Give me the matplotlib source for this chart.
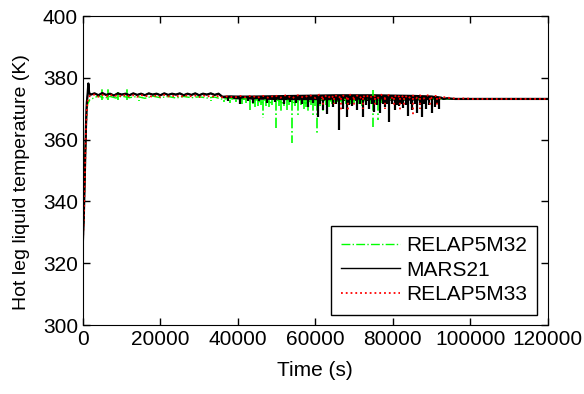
#!/usr/bin/env python3
import matplotlib
matplotlib.use("Agg")
import matplotlib.pyplot as plt
import numpy as np

# ---- data (time in s, temperature in K) ----
# each code: a main trace, plus short spikes (time, tip temperature) that
# leave the band at the given band level

# RELAP5M32
r32_t = [0, 300, 600, 900, 1200, 1800, 3000, 4000, 5500, 7000, 8500, 10000,
         12000, 14000, 16000, 18000, 20000, 22000, 24000, 26000, 28000, 30000,
         32000, 34000, 36000, 38000, 40000, 42000, 43500, 45000, 46000, 47000,
         48500, 50000, 51500, 53000, 54500, 56000, 57500, 59000, 60500, 61500,
         63000, 64500, 66000, 67500, 69000, 70500, 72000, 73500, 75000, 76500,
         78000, 80000, 83000, 86000, 90000, 93000, 100000, 120000]
r32_T = [327.5, 340, 355, 367, 371.5, 373.0, 373.6, 374.2, 373.4, 374.0, 373.5, 374.1,
         373.6, 374.0, 373.4, 374.1, 373.6, 374.0, 373.5, 374.0, 373.6, 373.9,
         373.5, 373.8, 373.1, 373.4, 372.8, 373.3, 372.2, 373.0, 371.8, 372.9,
         372.0, 373.0, 371.9, 372.8, 372.0, 372.9, 371.8, 372.7, 372.0, 373.0,
         372.1, 372.9, 372.3, 373.1, 372.4, 373.0, 372.3, 373.1, 372.5, 373.2,
         372.8, 373.2, 373.0, 373.3, 373.1, 373.2, 373.2, 373.2]
r32_level = 373.0
r32_spike_t = [4900, 6500, 9000, 11300, 14500, 21000, 33000, 36500, 38000, 39500,
               41000, 42000, 43100, 43800, 44500, 45300, 46000, 46500, 47300, 48000,
               48800, 49800, 50500, 51100, 51800, 52600, 53300, 53900, 54700, 55400,
               56200, 57000, 57600, 58200, 58800, 59400, 60000, 60500, 61200, 62000,
               62800, 63500, 64300, 65100, 66000, 67000, 68000, 69000, 70000, 71000,
               72000, 73000, 74000, 74900, 75000, 75600, 76200, 77000, 78000, 79000]
r32_spike_T = [377.0, 377.0, 375.5, 376.4, 372.5, 372.8, 372.6, 372.2, 371.8, 372.3,
               371.6, 372.0, 369.6, 371.4, 370.5, 371.0, 371.2, 367.0, 371.0, 370.5,
               371.3, 363.8, 371.0, 369.0, 370.8, 369.5, 371.2, 358.9, 370.9, 367.4,
               371.1, 370.0, 370.6, 369.0, 371.2, 368.0, 370.8, 361.5, 371.0, 368.6,
               371.2, 370.5, 371.4, 371.6, 371.0, 371.8, 371.4, 371.5, 371.9, 371.6,
               371.0, 371.8, 371.5, 364.0, 376.0, 371.5, 366.3, 371.8, 371.0, 372.0]

# MARS21
mars_t = [0, 200, 400, 600, 800, 1000, 1200, 1400, 1600, 2000, 3000, 4000, 5000,
          6000, 7000, 8000, 9000, 10000, 11000, 12000, 13000, 14000, 15000, 16000,
          17000, 18000, 19000, 20000, 21000, 22000, 23000, 24000, 25000, 26000,
          27000, 28000, 29000, 30000, 31000, 32000, 33000, 34000, 35000, 36000,
          38000, 40000, 44000, 48000, 52000, 56000, 60000, 64000, 68000, 72000,
          76000, 80000, 84000, 88000, 91000, 92500, 93000, 94000, 96000, 120000]
mars_T = [327.5, 334, 344, 355, 365, 372, 374.5, 378.2, 375.2, 374.6, 375.0, 374.4, 375.1,
          374.5, 374.9, 374.3, 375.0, 374.6, 374.9, 374.4, 375.0, 374.5, 374.9, 374.4,
          375.0, 374.6, 374.9, 374.4, 375.0, 374.5, 374.9, 374.6, 375.0, 374.4,
          374.9, 374.5, 375.0, 374.4, 374.9, 374.6, 375.0, 374.5, 374.9, 373.9,
          374.0, 373.9, 373.8, 373.8, 373.8, 373.8, 373.8, 373.8, 373.8, 373.8,
          373.8, 373.8, 373.8, 373.8, 373.8, 373.6, 373.2, 373.4, 373.2, 373.2]
# ragged band the MARS21 trace fills between 36000 s and 93000 s
mars_band_t = [36000, 38000, 40000, 45000, 50000, 55000, 60000, 65000, 70000,
               75000, 80000, 85000, 90000, 92500]
mars_band_lo = [373.6, 373.3, 373.2, 373.1, 373.0, 372.9, 372.8, 372.7, 372.7,
                372.7, 372.8, 372.8, 373.0, 373.2]
mars_band_hi = [374.2, 374.3, 374.4, 374.5, 374.6, 374.7, 374.8, 374.9, 374.9,
                374.9, 374.8, 374.7, 374.5, 373.8]
mars_level = 373.8
mars_spike_t = [37500, 40500, 42500, 44000, 45500, 47500, 49500, 52000, 53500, 55000,
                56500, 58000, 59500, 60600, 61300, 61900, 63000, 64500, 65300, 66000,
                67200, 68100, 68700, 69400, 70800, 71600, 72300, 73100, 73800, 74600,
                75200, 76000, 76800, 77500, 77900, 78500, 79100, 79800, 80500, 81100,
                81600, 82100, 82600, 83300, 83900, 84600, 85000, 85700, 86200, 86900,
                87500, 88100, 88600, 89300, 90000, 90800, 91500, 92000]
mars_spike_T = [372.5, 371.5, 372.6, 372.0, 372.4, 371.8, 372.3, 371.5, 372.2, 372.0,
                371.6, 370.5, 371.8, 367.4, 371.5, 369.5, 368.3, 370.5, 371.6, 363.0,
                370.0, 367.5, 371.2, 371.0, 369.5, 371.6, 367.3, 371.2, 370.0, 371.5,
                369.0, 371.3, 368.5, 371.6, 370.5, 371.4, 365.7, 371.5, 369.5, 371.3,
                371.0, 371.6, 370.2, 371.2, 367.6, 371.4, 369.5, 371.6, 368.6, 371.3,
                367.3, 371.5, 370.0, 371.2, 368.5, 370.5, 371.5, 370.0]

# RELAP5M33
r33_t = [0, 200, 400, 600, 800, 1000, 1300, 1800, 3000, 4000, 5000, 6000, 7000,
         8000, 9000, 10000, 11000, 12000, 13000, 14000, 15000, 16000, 17000, 18000,
         19000, 20000, 21000, 22000, 23000, 24000, 25000, 26000, 27000, 28000,
         29000, 30000, 31000, 32000, 33000, 34000, 35000, 36000, 37500, 39000,
         40500, 42000, 43500, 45000, 46500, 48000, 49500, 51000, 52500, 54000,
         55500, 57000, 58500, 60000, 61000, 62000, 63000, 64000, 65000, 66000,
         67000, 68000, 69000, 70000, 71000, 72000, 73000, 74000, 75000, 76000,
         77000, 78000, 79000, 80000, 81000, 82000, 83000, 84000, 85000, 86000,
         87000, 88000, 89000, 90000, 91000, 92000, 93000, 95500, 97000, 98500,
         100500, 120000]
r33_T = [327.5, 333, 343, 354, 364, 370, 373, 374.2, 374.6, 373.9, 374.5, 374.0, 374.6,
         374.0, 374.5, 373.9, 374.6, 374.0, 374.4, 373.9, 374.5, 374.0, 374.3, 373.8,
         374.4, 373.9, 374.5, 374.0, 374.3, 373.9, 374.4, 373.8, 374.5, 374.0,
         374.3, 373.8, 374.4, 373.9, 374.3, 373.8, 374.2, 373.7, 374.1, 373.6,
         374.2, 373.7, 374.3, 373.6, 374.2, 373.5, 374.4, 373.6, 374.5, 373.4,
         374.4, 373.6, 374.5, 373.5, 374.6, 373.4, 374.5, 373.3, 374.6, 373.5,
         374.5, 373.3, 374.6, 373.4, 374.5, 373.3, 374.6, 373.5, 374.5, 373.3,
         374.6, 373.4, 374.5, 373.3, 374.6, 373.5, 374.5, 373.3, 374.5, 373.4,
         374.4, 373.3, 374.4, 373.5, 374.2, 373.4, 373.8, 373.4, 373.2, 373.4,
         373.2, 373.2]
r33_level = 373.6
r33_spike_t = [62000, 64800, 66500, 68400, 70000, 72200, 75500, 78000, 80200, 81800,
               83000, 85100, 87000, 89500, 91500]
r33_spike_T = [370.5, 371.5, 369.5, 369.0, 370.5, 370.0, 371.0, 369.8, 371.2, 369.0,
               370.5, 368.0, 370.0, 371.0, 370.5]

plt.rcParams["font.family"] = ["Liberation Sans", "DejaVu Sans"]

fig = plt.figure(figsize=(5.84, 3.94), dpi=100)
ax = fig.add_axes([0.142, 0.175, 0.796, 0.784])

# RELAP5M32
ax.plot(r32_t, r32_T, color="#00ff00", linestyle="-.", linewidth=1.0, label="RELAP5M32")
ax.vlines(r32_spike_t, r32_level, r32_spike_T, colors="#00ff00", linestyles="-.",
          linewidth=1.2)

# MARS21
ax.plot(mars_t, mars_T, color="black", linestyle="-", linewidth=1.0, label="MARS21")
ax.plot(mars_t, mars_T, color="black", linestyle="-", linewidth=1.6)
ax.fill_between(mars_band_t, mars_band_lo, mars_band_hi, color="black", linewidth=0)
ax.vlines(mars_spike_t, mars_level, mars_spike_T, colors="black", linewidth=1.6)

# RELAP5M33
ax.plot(r33_t, r33_T, color="red", linestyle=":", linewidth=1.3, label="RELAP5M33")
ax.vlines(r33_spike_t, r33_level, r33_spike_T, colors="red", linestyles=":",
          linewidth=1.3)

ax.set_xlim(0, 120000)
ax.set_ylim(300, 400)
ax.set_xticks([0, 20000, 40000, 60000, 80000, 100000, 120000])
ax.set_yticks([300, 320, 340, 360, 380, 400])
ax.tick_params(direction="in", top=True, right=True, labelsize=15, length=5, width=1)
ax.set_xlabel("Time (s)", fontsize=15, labelpad=9)
ax.set_ylabel("Hot leg liquid temperature (K)", fontsize=14)
ax.yaxis.set_label_coords(-0.114, 0.463)

leg = ax.legend(loc="lower right", fontsize=15, fancybox=False, framealpha=1,
                edgecolor="black", handlelength=2.8, handletextpad=0.3,
                labelspacing=0.27, borderpad=0.5, borderaxespad=0.5)
leg.get_frame().set_linewidth(1.0)

fig.savefig("out.png", dpi=100)
